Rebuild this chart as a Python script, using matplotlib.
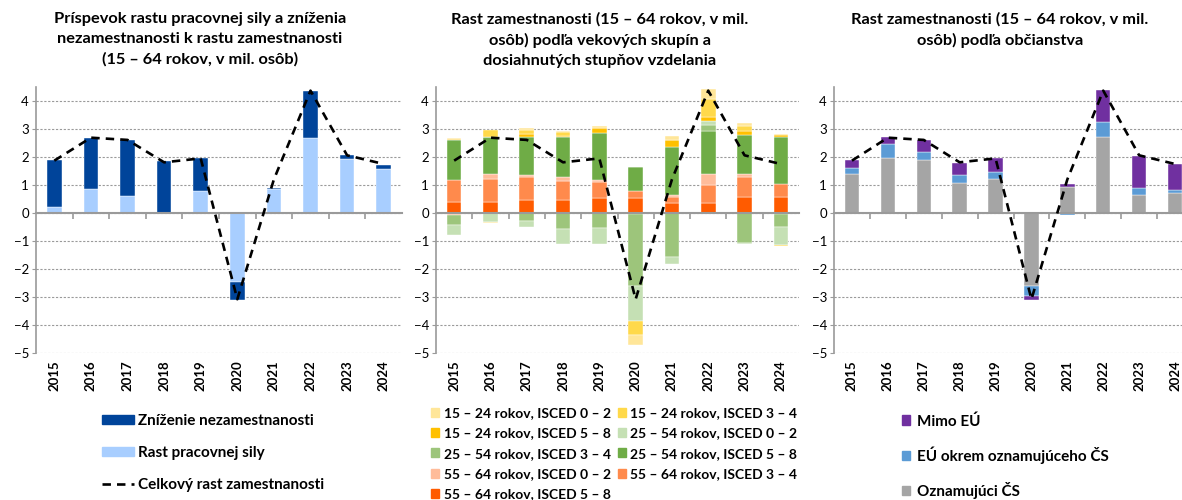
import numpy as np
import matplotlib.pyplot as plt
from matplotlib.patches import Patch
from matplotlib.lines import Line2D

plt.rcParams['font.family'] = ['Lato', 'DejaVu Sans']

# roky a celkový rast zamestnanosti (čiarkovaná čiara)
years = ['2015', '2016', '2017', '2018', '2019', '2020', '2021', '2022', '2023', '2024']
celkovy = [1.87, 2.69, 2.61, 1.81, 1.95, -3.08, 1.2, 4.37, 2.06, 1.75]

# graf 1
rast_sily = [0.22, 0.87, 0.60, -0.05, 0.80, -2.45, 0.87, 2.69, 1.93, 1.58]
znizenie = [1.67, 1.82, 2.01, 1.86, 1.16, -0.66, 0.04, 1.68, 0.13, 0.15]

# graf 2 (vekové skupiny x ISCED)
v15_02 = [0.02, -0.03, 0.07, 0.05, 0.06, -0.35, 0.12, 0.37, 0.10, 0.05]
v15_34 = [0.02, 0.23, 0.16, 0.14, 0.00, -0.52, 0.00, 0.63, 0.17, -0.03]
v15_58 = [0.04, 0.02, 0.11, 0.04, 0.17, 0.00, 0.26, 0.14, 0.16, 0.05]
v25_02 = [-0.36, -0.32, -0.21, -0.55, -0.59, -1.23, -0.26, 0.15, -0.03, -0.66]
v25_34 = [-0.35, 0.00, -0.30, -0.56, -0.53, -2.57, -1.57, 0.23, -1.07, -0.45]
v25_58 = [1.40, 1.32, 1.34, 1.40, 1.70, 0.85, 1.72, 1.53, 1.38, 1.70]
v55_02 = [-0.07, 0.17, 0.09, 0.15, 0.05, -0.05, 0.08, 0.38, 0.10, -0.04]
v55_34 = [0.80, 0.82, 0.80, 0.67, 0.60, 0.25, 0.19, 0.65, 0.71, 0.46]
v55_58 = [0.39, 0.40, 0.48, 0.48, 0.52, 0.55, 0.37, 0.36, 0.58, 0.56]

# graf 3 (občianstvo)
oznamujuci = [1.38, 1.98, 1.90, 1.07, 1.20, -2.60, 0.93, 2.73, 0.65, 0.70]
eu_okrem = [0.24, 0.48, 0.27, 0.30, 0.25, -0.38, -0.08, 0.51, 0.23, 0.11]
mimo_eu = [0.28, 0.24, 0.45, 0.43, 0.50, -0.14, 0.11, 1.16, 1.17, 0.94]

GRID = '#9A9A9A'
DASH = (0, (3.2, 2.3))


def setup(ax):
    ax.set_xlim(-0.5, 9.5)
    ax.set_ylim(-5, 4.5)
    ax.set_yticks(range(-5, 5))
    ax.tick_params(axis='y', labelsize=9.5, length=3, color=GRID, pad=2)
    ax.yaxis.grid(True, color=GRID, linestyle=(0, (2, 1.5)), linewidth=0.8)
    ax.set_axisbelow(True)
    for s in ['top', 'right']:
        ax.spines[s].set_visible(False)
    ax.spines['left'].set_color(GRID)
    ax.spines['left'].set_linewidth(1.2)
    ax.spines['bottom'].set_position(('data', 0))
    ax.spines['bottom'].set_color(GRID)
    ax.spines['bottom'].set_linewidth(1.5)
    ax.spines['bottom'].set_zorder(3)
    ax.set_xticks(np.arange(0.5, 9.5, 1))
    ax.set_xticklabels([])
    ax.tick_params(axis='x', length=4, color=GRID, width=1.2)
    sec = ax.secondary_xaxis('bottom')
    sec.set_xticks(range(10), years, rotation=90, fontweight='bold', fontsize=9.5)
    sec.tick_params(length=0, pad=5)
    sec.spines['bottom'].set_visible(False)


def stack(ax, series, colors):
    x = np.arange(10)
    pos = np.zeros(10)
    neg = np.zeros(10)
    for vals, col in zip(series, colors):
        v = np.array(vals, dtype=float)
        bottom = np.where(v >= 0, pos, neg)
        ax.bar(x, v, 0.4, bottom=bottom, color=col, edgecolor='white', linewidth=0.3, zorder=2)
        pos = pos + np.where(v >= 0, v, 0)
        neg = neg + np.where(v < 0, v, 0)


def total_line(ax):
    ax.plot(range(10), celkovy, color='black', linewidth=1.9, linestyle=DASH, zorder=4)


fig = plt.figure(figsize=(11.82, 5.0), dpi=100)
ax1 = fig.add_axes([36 / 1182, 1 - 353 / 500, 366 / 1182, 266 / 500])
ax2 = fig.add_axes([436 / 1182, 1 - 353 / 500, 363 / 1182, 266 / 500])
ax3 = fig.add_axes([834 / 1182, 1 - 353 / 500, 359 / 1182, 266 / 500])

# graf 1
c_dark, c_light = '#00449A', '#A8CEFF'
stack(ax1, [rast_sily, znizenie], [c_light, c_dark])
total_line(ax1)
setup(ax1)

# graf 2
cols2 = ['#FFE699', '#FFD94A', '#FFC000', '#C5E0B4', '#9DC57B', '#6FAC46',
         '#FFBC9A', '#FF8A4C', '#FF5B00']
ser2 = [v15_02, v15_34, v15_58, v25_02, v25_34, v25_58, v55_02, v55_34, v55_58]
stack(ax2, ser2[::-1], cols2[::-1])
total_line(ax2)
setup(ax2)

# graf 3
c_purple, c_blue, c_gray = '#7030A0', '#5B9BD5', '#A5A5A5'
stack(ax3, [oznamujuci, eu_okrem, mimo_eu], [c_gray, c_blue, c_purple])
total_line(ax3)
setup(ax3)

# nadpisy
tkw = dict(ha='center', va='top', fontsize=11.8, fontweight='bold', linespacing=1.55)
fig.text(200 / 1182, 1 - 12 / 500,
         'Príspevok rastu pracovnej sily a zníženia\nnezamestnanosti k rastu zamestnanosti\n(15 – 64 rokov, v mil. osôb)', **tkw)
fig.text(600 / 1182, 1 - 12 / 500,
         'Rast zamestnanosti (15 – 64 rokov, v mil.\nosôb) podľa vekových skupín a\ndosiahnutých stupňov vzdelania', **tkw)
fig.text(1000 / 1182, 1 - 12 / 500,
         'Rast zamestnanosti (15 – 64 rokov, v mil.\nosôb) podľa občianstva', **tkw)

# legendy
lkw = dict(frameon=False, borderpad=0, borderaxespad=0)
big = {'weight': 'bold', 'size': 11}
h1 = [Patch(color=c_dark), Patch(color=c_light),
      Line2D([], [], color='black', linewidth=1.9, linestyle=DASH)]
fig.legend(h1, ['Zníženie nezamestnanosti', 'Rast pracovnej sily', 'Celkový rast zamestnanosti'],
           loc='upper left', bbox_to_anchor=(102 / 1182, 1 - 414 / 500), prop=big,
           handlelength=2.1, handleheight=0.55, handletextpad=0.25, labelspacing=1.17, **lkw)

lab2 = ['15 – 24 rokov, ISCED 0 – 2', '15 – 24 rokov, ISCED 3 – 4', '15 – 24 rokov, ISCED 5 – 8',
        '25 – 54 rokov, ISCED 0 – 2', '25 – 54 rokov, ISCED 3 – 4', '25 – 54 rokov, ISCED 5 – 8',
        '55 – 64 rokov, ISCED 0 – 2', '55 – 64 rokov, ISCED 3 – 4', '55 – 64 rokov, ISCED 5 – 8']
order = [0, 2, 4, 6, 8, 1, 3, 5, 7]
h2 = [Patch(color=cols2[i]) for i in order]
fig.legend(h2, [lab2[i] for i in order], ncol=2, prop={'weight': 'bold', 'size': 10},
           loc='upper left', bbox_to_anchor=(431 / 1182, 1 - 407 / 500),
           handlelength=0.6, handleheight=0.6, handletextpad=0.3, labelspacing=0.6,
           columnspacing=0.5, **lkw)

h3 = [Patch(color=c_purple), Patch(color=c_blue), Patch(color=c_gray)]
fig.legend(h3, ['Mimo EÚ', 'EÚ okrem oznamujúceho ČS', 'Oznamujúci ČS'],
           loc='upper left', bbox_to_anchor=(902 / 1182, 1 - 414 / 500), prop=big,
           handlelength=0.55, handleheight=0.55, handletextpad=0.45, labelspacing=1.17, **lkw)

fig.savefig('out.png', dpi=100)
